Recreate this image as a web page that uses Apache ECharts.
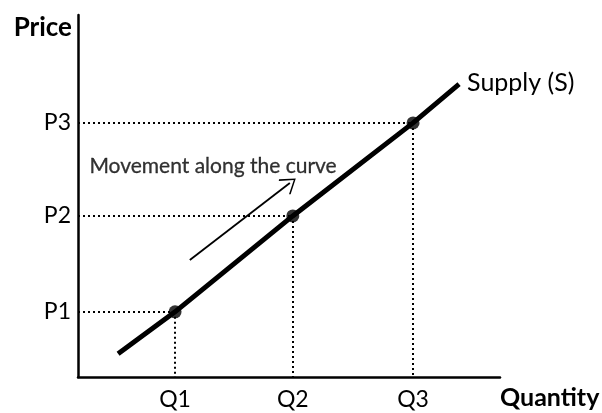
<!DOCTYPE html>
<html><head><meta charset="utf-8">
<script src="https://cdn.jsdelivr.net/npm/echarts@6/dist/echarts.min.js"></script>
<style>html,body{margin:0;padding:0;background:#fff}#c{width:602px;height:413px}</style>
</head><body><div id="c"></div>
<script>
// Data (axis units 0..10)
const quantityLabels = ['Q1', 'Q2', 'Q3'];
const quantityValues = [2.3, 5.09, 7.94];
const priceLabels = ['P1', 'P2', 'P3'];
const priceValues = [1.8, 4.45, 7.02];
const supplyLineX = [0.95, 2.3, 5.09, 7.94, 9.03];
const supplyLineY = [0.64, 1.8, 4.45, 7.02, 8.09];
const arrowStart = [2.65, 3.23];
const arrowEnd = [5.02, 5.36];
const arrowText = 'Movement along the curve';
const arrowTextPos = [3.2, 5.82];
const curveName = 'Supply (S)';

const FONT = 'Lato';
const chart = echarts.init(document.getElementById('c'), null, {renderer: 'canvas'});

const supplyData = supplyLineX.map((x, i) => [x, supplyLineY[i]]);
const eqPoints = quantityValues.map((q, i) => [q, priceValues[i]]);
const dotted = [];
eqPoints.forEach(p => {
  dotted.push([{coord: [0, p[1]]}, {coord: p}]);
  dotted.push([{coord: p}, {coord: [p[0], 0]}]);
});

chart.setOption({
  animation: false,
  grid: {left: 78, right: 102, top: 15, bottom: 36, outerBoundsMode: 'none'},
  xAxis: {
    type: 'value', min: 0, max: 10,
    axisLine: {show: true, lineStyle: {color: '#000', width: 2.5}},
    axisTick: {show: false}, splitLine: {show: false},
    axisLabel: {
      customValues: quantityValues,
      formatter: v => quantityLabels[quantityValues.indexOf(v)],
      color: '#000', fontFamily: FONT, fontSize: 23, margin: 11
    },
    name: 'Quantity', nameLocation: 'end', nameGap: 0,
    nameTextStyle: {color: '#000', fontFamily: FONT, fontSize: 25, fontWeight: 'bold',
      align: 'left', verticalAlign: 'top', padding: [8, 0, 0, 0]}
  },
  yAxis: {
    type: 'value', min: 0, max: 10,
    axisLine: {show: true, lineStyle: {color: '#000', width: 2.5}},
    axisTick: {show: false}, splitLine: {show: false},
    axisLabel: {
      customValues: priceValues,
      formatter: v => priceLabels[priceValues.indexOf(v)],
      color: '#000', fontFamily: FONT, fontSize: 23, margin: 7
    },
    name: 'Price', nameLocation: 'end', nameGap: 0,
    nameTextStyle: {color: '#000', fontFamily: FONT, fontSize: 26, fontWeight: 'bold',
      align: 'right', verticalAlign: 'top', padding: [0, 6, 0, 0]}
  },
  series: [
    {
      type: 'line', data: supplyData, symbol: 'none', silent: true,
      lineStyle: {color: '#000', width: 5},
      endLabel: {show: true, formatter: curveName, color: '#000', fontFamily: FONT,
        fontSize: 25, distance: 8, offset: [0, -1]},
      markLine: {
        silent: true, symbol: 'none',
        lineStyle: {color: '#000', width: 2, type: [2, 3]},
        label: {show: false},
        data: dotted
      },
      z: 3
    },
    {
      type: 'scatter', data: eqPoints, symbolSize: 13, silent: true,
      itemStyle: {color: '#000'}, z: 5
    },
    {
      type: 'scatter', data: [arrowTextPos], symbolSize: 0, silent: true,
      label: {show: true, position: 'inside', formatter: arrowText, color: '#000',
        fontFamily: FONT, fontSize: 21, textBorderColor: '#000', textBorderWidth: 0.3},
      markLine: {
        silent: true,
        symbol: ['none', 'path://M0,0 L10,12 L8.8,13 L0,2.2 L-8.8,13 L-10,12 Z'],
        symbolSize: [19, 15],
        lineStyle: {color: '#000', width: 1.8, type: 'solid'},
        itemStyle: {color: '#000'},
        label: {show: false},
        data: [[{coord: arrowStart}, {coord: arrowEnd}]]
      }
    }
  ]
});
</script></body></html>
